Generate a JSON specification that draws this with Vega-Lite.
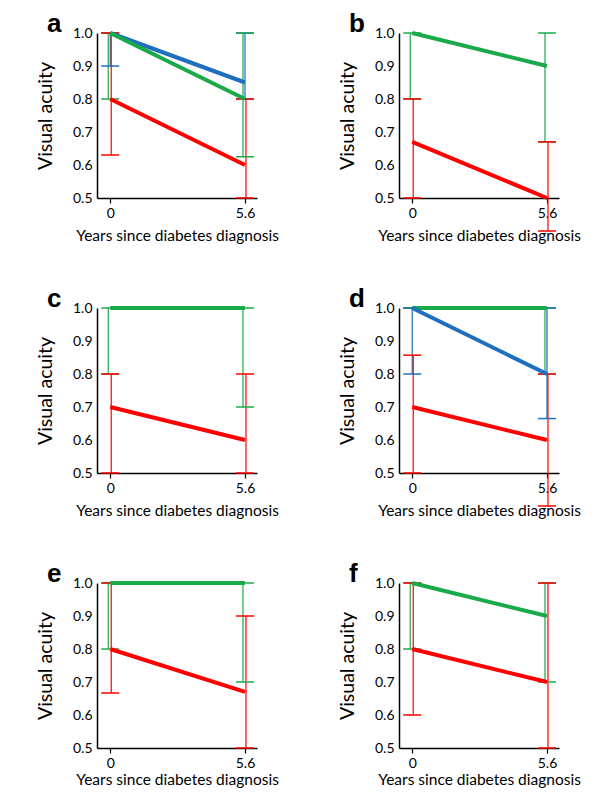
{
  "$schema": "https://vega.github.io/schema/vega-lite/v6.json",
  "background": "white",
  "padding": {"left": 35, "top": 11, "right": 5, "bottom": 5},
  "datasets": {
    "d": [
      {"p": "a", "g": "blue", "x": 0, "y": 1.0, "lo": 0.9, "hi": 1.0},
      {"p": "a", "g": "blue", "x": 5.6, "y": 0.85, "lo": 0.8, "hi": 1.0},
      {"p": "a", "g": "green", "x": 0, "y": 1.0, "lo": 0.8, "hi": 1.0},
      {"p": "a", "g": "green", "x": 5.6, "y": 0.8, "lo": 0.625, "hi": 1.0},
      {"p": "a", "g": "red", "x": 0, "y": 0.8, "lo": 0.63, "hi": 1.0},
      {"p": "a", "g": "red", "x": 5.6, "y": 0.6, "lo": 0.5, "hi": 0.8},
      {"p": "b", "g": "green", "x": 0, "y": 1.0, "lo": 0.8, "hi": 1.0},
      {"p": "b", "g": "green", "x": 5.6, "y": 0.9, "lo": 0.67, "hi": 1.0},
      {"p": "b", "g": "red", "x": 0, "y": 0.67, "lo": 0.5, "hi": 0.8},
      {"p": "b", "g": "red", "x": 5.6, "y": 0.5, "lo": 0.4, "hi": 0.67},
      {"p": "c", "g": "green", "x": 0, "y": 1.0, "lo": 0.8, "hi": 1.0},
      {"p": "c", "g": "green", "x": 5.6, "y": 1.0, "lo": 0.7, "hi": 1.0},
      {"p": "c", "g": "red", "x": 0, "y": 0.7, "lo": 0.5, "hi": 0.8},
      {"p": "c", "g": "red", "x": 5.6, "y": 0.6, "lo": 0.5, "hi": 0.8},
      {"p": "d", "g": "green", "x": 0, "y": 1.0, "lo": 1.0, "hi": 1.0},
      {"p": "d", "g": "green", "x": 5.6, "y": 1.0, "lo": 0.8, "hi": 1.0},
      {"p": "d", "g": "blue", "x": 0, "y": 1.0, "lo": 0.8, "hi": 1.0},
      {"p": "d", "g": "blue", "x": 5.6, "y": 0.8, "lo": 0.665, "hi": 1.0},
      {"p": "d", "g": "red", "x": 0, "y": 0.7, "lo": 0.5, "hi": 0.857},
      {"p": "d", "g": "red", "x": 5.6, "y": 0.6, "lo": 0.4, "hi": 0.8},
      {"p": "e", "g": "green", "x": 0, "y": 1.0, "lo": 0.8, "hi": 1.0},
      {"p": "e", "g": "green", "x": 5.6, "y": 1.0, "lo": 0.7, "hi": 1.0},
      {"p": "e", "g": "red", "x": 0, "y": 0.8, "lo": 0.667, "hi": 1.0},
      {"p": "e", "g": "red", "x": 5.6, "y": 0.67, "lo": 0.5, "hi": 0.9},
      {"p": "f", "g": "green", "x": 0, "y": 1.0, "lo": 0.8, "hi": 1.0},
      {"p": "f", "g": "green", "x": 5.6, "y": 0.9, "lo": 0.7, "hi": 1.0},
      {"p": "f", "g": "red", "x": 0, "y": 0.8, "lo": 0.6, "hi": 1.0},
      {"p": "f", "g": "red", "x": 5.6, "y": 0.7, "lo": 0.5, "hi": 1.0}
    ]
  },
  "config": {
    "view": {"stroke": null},
    "font": "Lato",
    "axis": {
      "grid": false,
      "domainColor": "#000",
      "domainWidth": 1.5,
      "tickColor": "#000",
      "tickWidth": 1.2,
      "labelFont": "Lato",
      "titleFont": "Lato",
      "labelFontSize": 14,
      "titleFontSize": 16,
      "titleFontWeight": "normal",
      "labelColor": "#000",
      "titleColor": "#000",
      "labelOverlap": false
    },
    "axisY": {"ticks": false, "labelPadding": 5, "titlePadding": 17, "titleFontSize": 19.5},
    "axisX": {"tickSize": 5, "labelPadding": 3, "titlePadding": 8, "titleFontSize": 15.5},
    "title": {"anchor": "start", "frame": "group", "dx": -50, "dy": 16, "fontSize": 26, "fontWeight": "bold", "font": "Liberation Sans", "offset": 0, "baseline": "alphabetic", "color": "#000"}
  },
  "columns": 2,
  "bounds": "flush",
  "spacing": {"row": 110, "column": 142},
  "concat": [
    {
      "width": 160, "height": 165,
      "title": "a",
      "data": {"name": "d"},
      "transform": [{"filter": "datum.p == 'a'"}],
      "encoding": {
        "x": {"field": "x", "type": "quantitative", "scale": {"domain": [-0.55, 6.1], "nice": false, "zero": false}, "axis": {"values": [0, 5.6], "format": ".2~g", "title": "Years since diabetes diagnosis"}},
        "y": {"field": "lo", "type": "quantitative", "scale": {"domain": [0.5, 1.0], "nice": false, "zero": false}, "axis": {"values": [0.5, 0.6, 0.7, 0.8, 0.9, 1.0], "format": ".1f", "title": "Visual acuity", "labelOverlap": false, "labelBound": false, "labelFlush": false}},
        "color": {"field": "g", "type": "nominal", "scale": {"domain": ["red", "green", "blue"], "range": ["#ff0000", "#1aaa4a", "#1f6fc0"]}, "legend": null}
      },
      "layer": [
        {"mark": {"type": "rule", "strokeWidth": 1.2, "xOffset": {"expr": "datum.g == 'green' ? -2 : datum.g == 'red' ? 1 : 0"}}, "encoding": {"y2": {"field": "hi"}}},
        {"mark": {"type": "tick", "orient": "horizontal", "size": 18, "thickness": 1.5, "opacity": 1}, "encoding": {}},
        {"mark": {"type": "tick", "orient": "horizontal", "size": 18, "thickness": 1.5, "opacity": 1}, "encoding": {"y": {"field": "hi", "type": "quantitative"}}},
        {"mark": {"type": "line", "strokeWidth": 4}, "encoding": {"y": {"field": "y", "type": "quantitative"}}}
      ]
    },
    {
      "width": 160, "height": 165,
      "title": "b",
      "data": {"name": "d"},
      "transform": [{"filter": "datum.p == 'b'"}],
      "encoding": {
        "x": {"field": "x", "type": "quantitative", "scale": {"domain": [-0.55, 6.1], "nice": false, "zero": false}, "axis": {"values": [0, 5.6], "format": ".2~g", "title": "Years since diabetes diagnosis"}},
        "y": {"field": "lo", "type": "quantitative", "scale": {"domain": [0.5, 1.0], "nice": false, "zero": false}, "axis": {"values": [0.5, 0.6, 0.7, 0.8, 0.9, 1.0], "format": ".1f", "title": "Visual acuity", "labelOverlap": false, "labelBound": false, "labelFlush": false}},
        "color": {"field": "g", "type": "nominal", "scale": {"domain": ["red", "green", "blue"], "range": ["#ff0000", "#1aaa4a", "#1f6fc0"]}, "legend": null}
      },
      "layer": [
        {"mark": {"type": "rule", "strokeWidth": 1.2, "xOffset": {"expr": "datum.g == 'green' ? -2 : datum.g == 'red' ? 1 : 0"}}, "encoding": {"y2": {"field": "hi"}}},
        {"mark": {"type": "tick", "orient": "horizontal", "size": 18, "thickness": 1.5, "opacity": 1}, "encoding": {}},
        {"mark": {"type": "tick", "orient": "horizontal", "size": 18, "thickness": 1.5, "opacity": 1}, "encoding": {"y": {"field": "hi", "type": "quantitative"}}},
        {"mark": {"type": "line", "strokeWidth": 4}, "encoding": {"y": {"field": "y", "type": "quantitative"}}}
      ]
    },
    {
      "width": 160, "height": 165,
      "title": "c",
      "data": {"name": "d"},
      "transform": [{"filter": "datum.p == 'c'"}],
      "encoding": {
        "x": {"field": "x", "type": "quantitative", "scale": {"domain": [-0.55, 6.1], "nice": false, "zero": false}, "axis": {"values": [0, 5.6], "format": ".2~g", "title": "Years since diabetes diagnosis"}},
        "y": {"field": "lo", "type": "quantitative", "scale": {"domain": [0.5, 1.0], "nice": false, "zero": false}, "axis": {"values": [0.5, 0.6, 0.7, 0.8, 0.9, 1.0], "format": ".1f", "title": "Visual acuity", "labelOverlap": false, "labelBound": false, "labelFlush": false}},
        "color": {"field": "g", "type": "nominal", "scale": {"domain": ["red", "green", "blue"], "range": ["#ff0000", "#1aaa4a", "#1f6fc0"]}, "legend": null}
      },
      "layer": [
        {"mark": {"type": "rule", "strokeWidth": 1.2, "xOffset": {"expr": "datum.g == 'green' ? -2 : datum.g == 'red' ? 1 : 0"}}, "encoding": {"y2": {"field": "hi"}}},
        {"mark": {"type": "tick", "orient": "horizontal", "size": 18, "thickness": 1.5, "opacity": 1}, "encoding": {}},
        {"mark": {"type": "tick", "orient": "horizontal", "size": 18, "thickness": 1.5, "opacity": 1}, "encoding": {"y": {"field": "hi", "type": "quantitative"}}},
        {"mark": {"type": "line", "strokeWidth": 4}, "encoding": {"y": {"field": "y", "type": "quantitative"}}}
      ]
    },
    {
      "width": 160, "height": 165,
      "title": "d",
      "data": {"name": "d"},
      "transform": [{"filter": "datum.p == 'd'"}],
      "encoding": {
        "x": {"field": "x", "type": "quantitative", "scale": {"domain": [-0.55, 6.1], "nice": false, "zero": false}, "axis": {"values": [0, 5.6], "format": ".2~g", "title": "Years since diabetes diagnosis"}},
        "y": {"field": "lo", "type": "quantitative", "scale": {"domain": [0.5, 1.0], "nice": false, "zero": false}, "axis": {"values": [0.5, 0.6, 0.7, 0.8, 0.9, 1.0], "format": ".1f", "title": "Visual acuity", "labelOverlap": false, "labelBound": false, "labelFlush": false}},
        "color": {"field": "g", "type": "nominal", "scale": {"domain": ["red", "green", "blue"], "range": ["#ff0000", "#1aaa4a", "#1f6fc0"]}, "legend": null}
      },
      "layer": [
        {"mark": {"type": "rule", "strokeWidth": 1.2, "xOffset": {"expr": "datum.g == 'green' ? -2 : datum.g == 'red' ? 1 : 0"}}, "encoding": {"y2": {"field": "hi"}}},
        {"mark": {"type": "tick", "orient": "horizontal", "size": 18, "thickness": 1.5, "opacity": 1}, "encoding": {}},
        {"mark": {"type": "tick", "orient": "horizontal", "size": 18, "thickness": 1.5, "opacity": 1}, "encoding": {"y": {"field": "hi", "type": "quantitative"}}},
        {"mark": {"type": "line", "strokeWidth": 4}, "encoding": {"y": {"field": "y", "type": "quantitative"}}}
      ]
    },
    {
      "width": 160, "height": 165,
      "title": "e",
      "data": {"name": "d"},
      "transform": [{"filter": "datum.p == 'e'"}],
      "encoding": {
        "x": {"field": "x", "type": "quantitative", "scale": {"domain": [-0.55, 6.1], "nice": false, "zero": false}, "axis": {"values": [0, 5.6], "format": ".2~g", "title": "Years since diabetes diagnosis", "titlePadding": 2}},
        "y": {"field": "lo", "type": "quantitative", "scale": {"domain": [0.5, 1.0], "nice": false, "zero": false}, "axis": {"values": [0.5, 0.6, 0.7, 0.8, 0.9, 1.0], "format": ".1f", "title": "Visual acuity", "labelOverlap": false, "labelBound": false, "labelFlush": false}},
        "color": {"field": "g", "type": "nominal", "scale": {"domain": ["red", "green", "blue"], "range": ["#ff0000", "#1aaa4a", "#1f6fc0"]}, "legend": null}
      },
      "layer": [
        {"mark": {"type": "rule", "strokeWidth": 1.2, "xOffset": {"expr": "datum.g == 'green' ? -2 : datum.g == 'red' ? 1 : 0"}}, "encoding": {"y2": {"field": "hi"}}},
        {"mark": {"type": "tick", "orient": "horizontal", "size": 18, "thickness": 1.5, "opacity": 1}, "encoding": {}},
        {"mark": {"type": "tick", "orient": "horizontal", "size": 18, "thickness": 1.5, "opacity": 1}, "encoding": {"y": {"field": "hi", "type": "quantitative"}}},
        {"mark": {"type": "line", "strokeWidth": 4}, "encoding": {"y": {"field": "y", "type": "quantitative"}}}
      ]
    },
    {
      "width": 160, "height": 165,
      "title": "f",
      "data": {"name": "d"},
      "transform": [{"filter": "datum.p == 'f'"}],
      "encoding": {
        "x": {"field": "x", "type": "quantitative", "scale": {"domain": [-0.55, 6.1], "nice": false, "zero": false}, "axis": {"values": [0, 5.6], "format": ".2~g", "title": "Years since diabetes diagnosis", "titlePadding": 2}},
        "y": {"field": "lo", "type": "quantitative", "scale": {"domain": [0.5, 1.0], "nice": false, "zero": false}, "axis": {"values": [0.5, 0.6, 0.7, 0.8, 0.9, 1.0], "format": ".1f", "title": "Visual acuity", "labelOverlap": false, "labelBound": false, "labelFlush": false}},
        "color": {"field": "g", "type": "nominal", "scale": {"domain": ["red", "green", "blue"], "range": ["#ff0000", "#1aaa4a", "#1f6fc0"]}, "legend": null}
      },
      "layer": [
        {"mark": {"type": "rule", "strokeWidth": 1.2, "xOffset": {"expr": "datum.g == 'green' ? -2 : datum.g == 'red' ? 1 : 0"}}, "encoding": {"y2": {"field": "hi"}}},
        {"mark": {"type": "tick", "orient": "horizontal", "size": 18, "thickness": 1.5, "opacity": 1}, "encoding": {}},
        {"mark": {"type": "tick", "orient": "horizontal", "size": 18, "thickness": 1.5, "opacity": 1}, "encoding": {"y": {"field": "hi", "type": "quantitative"}}},
        {"mark": {"type": "line", "strokeWidth": 4}, "encoding": {"y": {"field": "y", "type": "quantitative"}}}
      ]
    }
  ]
}
